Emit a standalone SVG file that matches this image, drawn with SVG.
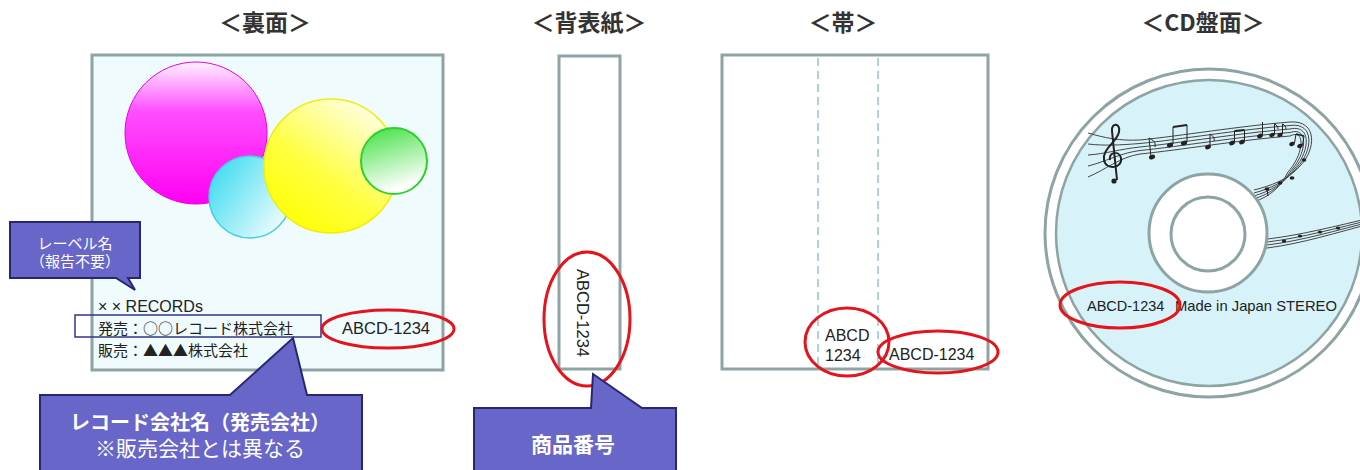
<svg xmlns="http://www.w3.org/2000/svg" width="1360" height="470" viewBox="0 0 1360 470">
  <style>
    .title { font-family: "Noto Sans CJK JP", "Liberation Sans", sans-serif; font-size: 23px; font-weight: bold; fill: #333; text-anchor: middle; }
    .panel { stroke: #8ea3a3; stroke-width: 3; }
    .jp { font-family: "Noto Sans CJK JP", sans-serif; fill: #222; }
    .lat { font-family: "Liberation Sans", Arial, sans-serif; fill: #222; }
    .mark { fill: none; stroke: #e3141c; stroke-width: 3; }
    .callout { fill: #6866c9; stroke: #27276f; stroke-width: 2; stroke-linejoin: miter; }
    .ctext { font-family: "Liberation Sans", "Noto Sans CJK JP", sans-serif; fill: #fff; text-anchor: middle; }
    .staff { fill: none; stroke: #444; stroke-width: 1; }
    .note { fill: #222; }
    .stem { stroke: #222; stroke-width: 1; }
  </style>
  <defs>
    <linearGradient id="gMagenta" x1="0" y1="0" x2="0" y2="1">
      <stop offset="0" stop-color="#fff2ff"/>
      <stop offset="0.35" stop-color="#ff4dff"/>
      <stop offset="1" stop-color="#ff00f2"/>
    </linearGradient>
    <linearGradient id="gCyan" x1="0" y1="0.2" x2="1" y2="0.9">
      <stop offset="0" stop-color="#3ddcf0"/>
      <stop offset="1" stop-color="#ffffff"/>
    </linearGradient>
    <linearGradient id="gYellow" x1="0.9" y1="0" x2="0.2" y2="1">
      <stop offset="0" stop-color="#ffffff"/>
      <stop offset="0.6" stop-color="#ffff40"/>
      <stop offset="1" stop-color="#ffff00"/>
    </linearGradient>
    <linearGradient id="gGreen" x1="0" y1="0" x2="0.3" y2="1">
      <stop offset="0" stop-color="#3ee03e"/>
      <stop offset="1" stop-color="#ffffff"/>
    </linearGradient>
  </defs>

  <rect width="1360" height="470" fill="#fff"/>

  <!-- section titles -->
  <g id="titles">
    <text class="title" x="265" y="31">＜裏面＞</text>
    <text class="title" x="589" y="31">＜背表紙＞</text>
    <text class="title" x="843" y="31">＜帯＞</text>
    <text class="title" x="1203" y="31">＜CD盤面＞</text>
  </g>

  <!-- back cover -->
  <g id="back-cover">
    <rect class="panel" x="92" y="55" width="351" height="315" fill="#f0fbfe"/>
    <circle cx="196" cy="133" r="71" fill="url(#gMagenta)" stroke="#e600e6" stroke-width="1"/>
    <circle cx="250" cy="197" r="41" fill="url(#gCyan)" stroke="#46cde2" stroke-width="1.5"/>
    <circle cx="331" cy="166" r="67" fill="url(#gYellow)" stroke="#eeee10" stroke-width="1.5"/>
    <circle cx="394" cy="161" r="33" fill="url(#gGreen)" stroke="#2ed02e" stroke-width="2"/>
    <text class="lat" x="98" y="312" font-size="16">× × RECORDs</text>
    <text class="jp" x="98" y="334" font-size="15">発売：○○レコード株式会社</text>
    <text class="jp" x="98" y="356" font-size="15">販売：▲▲▲株式会社</text>
    <rect x="75" y="315" width="246" height="22" fill="none" stroke="#34348a" stroke-width="1.5"/>
    <text class="lat" x="342" y="334" font-size="16.5">ABCD-1234</text>
    <ellipse class="mark" cx="388" cy="329" rx="66" ry="19"/>
  </g>

  <!-- label name callout -->
  <g id="label-callout">
    <path class="callout" d="M10,222 H140 V278 H128 L135,290 L116,278 H10 Z"/>
    <text class="ctext" x="75" y="249" font-size="15">レーベル名</text>
    <text class="ctext" x="75" y="267" font-size="15">（報告不要）</text>
  </g>

  <!-- record company callout -->
  <g id="company-callout">
    <path class="callout" d="M40,395 H230 L293,338 L307,395 H362 V473 H40 Z"/>
    <text class="ctext" x="200" y="430" font-size="20" font-weight="bold">レコード会社名（発売会社）</text>
    <text class="ctext" x="200" y="456" font-size="21">※販売会社とは異なる</text>
  </g>

  <!-- spine -->
  <g id="spine">
    <rect class="panel" x="559" y="56" width="61" height="313" fill="#fff"/>
    <text class="lat" font-size="16.5" text-anchor="middle" transform="translate(577,313) rotate(90)">ABCD-1234</text>
    <ellipse class="mark" cx="587" cy="319" rx="43" ry="67"/>
  </g>

  <!-- product number callout -->
  <g id="spine-callout">
    <path class="callout" d="M474,408 H591 L593,374 L642,408 H676 V473 H474 Z"/>
    <text class="ctext" x="573" y="452" font-size="21" font-weight="bold">商品番号</text>
  </g>

  <!-- obi strip -->
  <g id="obi">
    <rect class="panel" x="722" y="55" width="266" height="314" fill="#fff"/>
    <line x1="818" y1="58" x2="818" y2="367" stroke="#a9d6da" stroke-width="2" stroke-dasharray="8 5"/>
    <line x1="878" y1="58" x2="878" y2="367" stroke="#a9d6da" stroke-width="2" stroke-dasharray="8 5"/>
    <text class="lat" x="825" y="341" font-size="16">ABCD</text>
    <text class="lat" x="825" y="361" font-size="16">1234</text>
    <text class="lat" x="889" y="360" font-size="16">ABCD-1234</text>
    <ellipse class="mark" cx="847" cy="342" rx="42" ry="34"/>
    <ellipse class="mark" cx="938" cy="352" rx="60" ry="21"/>
  </g>

  <!-- CD label face -->
  <g id="cd-face">
    <circle cx="1209" cy="233" r="164" fill="#fff" stroke="#8ea3a3" stroke-width="3"/>
    <circle cx="1209" cy="233" r="153" fill="#d7f3f9" stroke="#8ea3a3" stroke-width="2.5"/>
    <!-- upper staff -->
    <g class="staff">
      <path d="M1088,133 C1105,138 1120,141 1140,140 C1180,136 1240,126 1290,122 C1318,120 1316,150 1300,166 C1288,180 1270,186 1254,190"/>
      <path d="M1088,144 C1105,146 1120,145 1140,143.5 C1180,139.5 1240,129.5 1290,125.5 C1315,122 1313,151 1297,167.5 C1286,182 1270,188.5 1254,193"/>
      <path d="M1088,155 C1105,154 1120,149 1140,147 C1180,143 1240,133 1290,129 C1312,124 1310,152 1294,169 C1284,184 1270,191 1254,196"/>
      <path d="M1088,166 C1105,162 1120,153 1140,150.5 C1180,146.5 1240,136.5 1290,132.5 C1309,126 1307,153 1291,170.5 C1282,186 1270,193.5 1254,199"/>
      <path d="M1088,177 C1105,170 1120,157 1140,154 C1180,150 1240,140 1290,136 C1306,128 1304,154 1288,172 C1280,188 1270,196 1254,202"/>
    </g>
    <!-- lower staff -->
    <g class="staff">
      <path d="M1258,240 C1290,237 1320,230 1362,220"/>
      <path d="M1258,243 C1290,240 1320,232.5 1362,222"/>
      <path d="M1258,246 C1290,243 1320,235 1362,224"/>
      <path d="M1258,249 C1290,246 1320,237.5 1362,226"/>
    </g>
    <!-- treble clef -->
    <path d="M1117,180 L1112,131 C1111,122 1121,123 1119,132 C1117,142 1102,149 1104,160 C1106,171 1123,168 1121,158 C1119,150 1108,152 1110,160" fill="none" stroke="#222" stroke-width="2"/>
    <circle cx="1114" cy="181" r="2.6" class="note"/>
    <!-- notes -->
    <g>
      <ellipse class="note" cx="1152" cy="157" rx="3.2" ry="2.3" transform="rotate(-25 1152 157)"/>
      <line class="stem" x1="1151" y1="157" x2="1149" y2="138"/>
      <path d="M1149,138 C1153,140 1156,142 1155,147" fill="none" stroke="#222" stroke-width="1"/>
      <ellipse class="note" cx="1170" cy="145" rx="3.2" ry="2.3" transform="rotate(-25 1170 145)"/>
      <ellipse class="note" cx="1184" cy="143" rx="3.2" ry="2.3" transform="rotate(-25 1184 143)"/>
      <line class="stem" x1="1173" y1="144" x2="1173" y2="127"/>
      <line class="stem" x1="1187" y1="142" x2="1187" y2="125"/>
      <line x1="1173" y1="127" x2="1187" y2="125" stroke="#222" stroke-width="2.2"/>
      <ellipse class="note" cx="1208" cy="147" rx="3" ry="2.2" transform="rotate(-25 1208 147)"/>
      <line class="stem" x1="1210" y1="146" x2="1210" y2="134"/>
      <path d="M1210,134 C1213,136 1215,138 1214,141" fill="none" stroke="#222" stroke-width="1"/>
      <ellipse class="note" cx="1232" cy="143" rx="3" ry="2.2" transform="rotate(-25 1232 143)"/>
      <ellipse class="note" cx="1242" cy="142" rx="3" ry="2.2" transform="rotate(-25 1242 142)"/>
      <line class="stem" x1="1234.5" y1="142" x2="1234.5" y2="131"/>
      <line class="stem" x1="1244.5" y1="141" x2="1244.5" y2="130"/>
      <line x1="1234.5" y1="131" x2="1244.5" y2="130" stroke="#222" stroke-width="2"/>
      <ellipse class="note" cx="1260" cy="136" rx="3" ry="2.2" transform="rotate(-25 1260 136)"/>
      <line class="stem" x1="1262.5" y1="135" x2="1262.5" y2="122"/>
      <ellipse class="note" cx="1272" cy="135" rx="2.8" ry="2" transform="rotate(-25 1272 135)"/>
      <ellipse class="note" cx="1280" cy="135" rx="2.8" ry="2" transform="rotate(-25 1280 135)"/>
      <line class="stem" x1="1274.5" y1="134" x2="1274.5" y2="124"/>
      <line class="stem" x1="1282.5" y1="134" x2="1282.5" y2="124"/>
      <path d="M1274.5,124 C1277,125 1278,127 1278,129 M1282.5,124 C1285,125 1286,127 1286,129" fill="none" stroke="#222" stroke-width="1"/>
      <ellipse class="note" cx="1292" cy="144" rx="2.8" ry="2" transform="rotate(-20 1292 144)"/>
      <ellipse class="note" cx="1300" cy="146" rx="2.8" ry="2" transform="rotate(-20 1300 146)"/>
      <line class="stem" x1="1294.5" y1="143" x2="1296" y2="134"/>
      <line class="stem" x1="1302.5" y1="145" x2="1304" y2="136"/>
      <line x1="1296" y1="134" x2="1304" y2="136" stroke="#222" stroke-width="1.6"/>
      <ellipse class="note" cx="1304" cy="160" rx="2.4" ry="1.8"/>
      <ellipse class="note" cx="1292" cy="178" rx="2.4" ry="1.8"/>
      <ellipse class="note" cx="1280" cy="183" rx="2.4" ry="1.8"/>
      <ellipse class="note" cx="1267" cy="189" rx="2.4" ry="1.8"/>
      <line class="stem" x1="1267" y1="189" x2="1268" y2="196"/>
      <ellipse class="note" cx="1284" cy="241" rx="2.2" ry="1.6"/>
      <ellipse class="note" cx="1300" cy="236" rx="2.2" ry="1.6"/>
      <ellipse class="note" cx="1320" cy="232" rx="2.2" ry="1.6"/>
      <ellipse class="note" cx="1338" cy="228" rx="2.2" ry="1.6"/>
    </g>
    <!-- hub -->
    <circle cx="1208" cy="233" r="59" fill="#fff" stroke="#8ea3a3" stroke-width="3"/>
    <circle cx="1208" cy="234" r="37" fill="#fff" stroke="#8ea3a3" stroke-width="3"/>
    <text class="lat" x="1087" y="311" font-size="14.5">ABCD-1234</text>
    <text class="lat" x="1175" y="311" font-size="14.5" textLength="162" lengthAdjust="spacingAndGlyphs">Made in Japan STEREO</text>
    <ellipse class="mark" cx="1120" cy="305" rx="60" ry="23"/>
  </g>
</svg>
